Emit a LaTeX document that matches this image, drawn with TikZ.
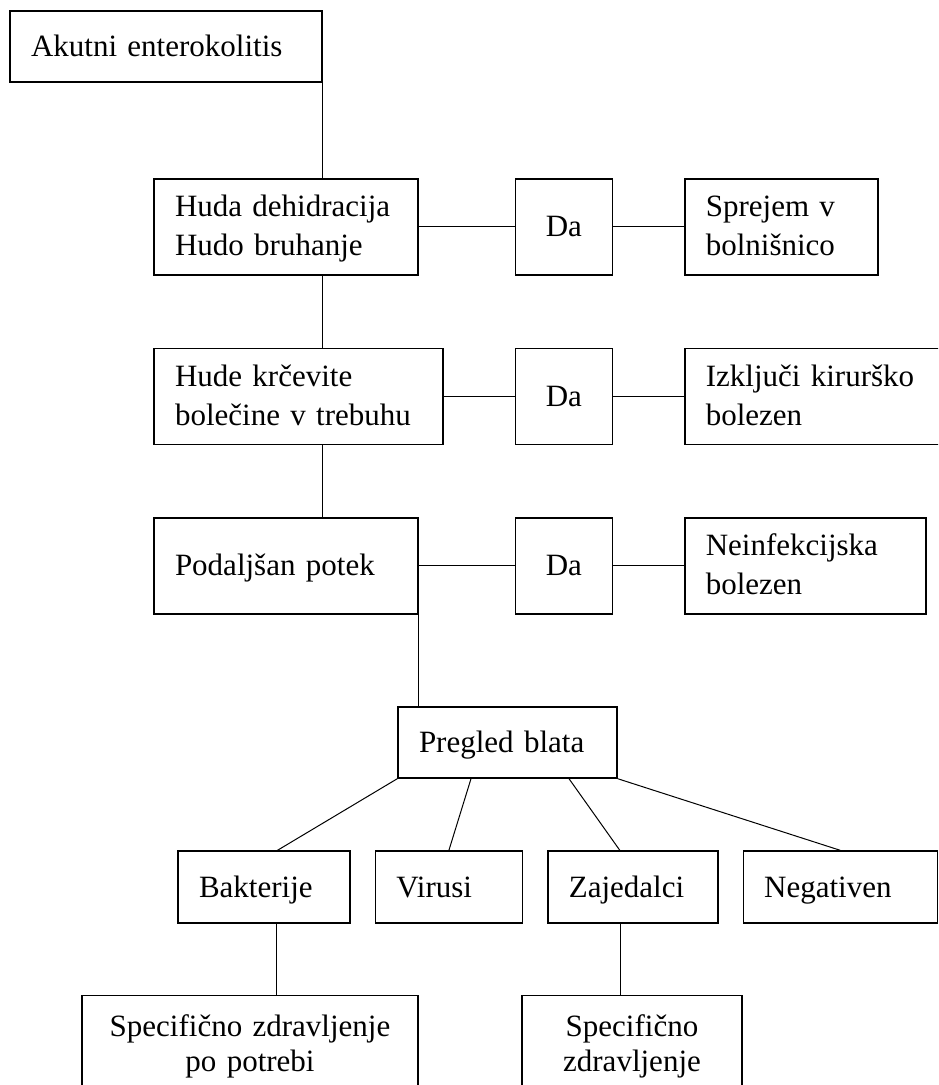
\documentclass[tikz,border=0pt]{standalone}
\usepackage{fontspec}
\setmainfont{Liberation Serif}
\usetikzlibrary{positioning}

\begin{document}
\begin{tikzpicture}[
  x=0.5pt, y=-0.5pt, node distance=36pt and 35.5pt,
  font=\fontsize{15.5}{19.5}\selectfont,
  box/.style={draw, line width=0.7pt, inner xsep=10.5pt, inner ysep=0pt,
    minimum height=48pt},
  lbox/.style={box, text width=#1, align=left, text depth=20.9pt},
  dabox/.style={box, minimum width=48.5pt, align=center},
  kbox/.style={box, text width=#1, align=left, minimum height=36pt,
    text height=13.5pt, text depth=3.4pt},
  sbox/.style={box, text width=#1, align=center, inner ysep=9.4pt,
    font=\fontsize{15.5}{17.5}\selectfont},
  ln/.style={line width=0.5pt}]
  \useasboundingbox (0,0) rectangle (938,1085);
  \clip (0,0) rectangle (938,1085);
  % left column
  \node[kbox=135pt, minimum height=35.5pt] (akutni) at (166,46.5) {Akutni enterokolitis};
  \node[lbox=111pt] (huda) at (286,227) {Huda dehidracija\\Hudo bruhanje};
  \node[lbox=123.5pt, below=of huda.south west, anchor=north west] (hude) {Hude krčevite\\bolečine v trebuhu};
  \node[lbox=111pt, text depth=1.4pt, below=of hude.south west, anchor=north west] (podaljsan) {Podaljšan potek};
  % answers
  \node[dabox, right=48pt of huda] (da1) {Da};
  \node[dabox, below=of da1] (da2) {Da};
  \node[dabox, below=of da2] (da3) {Da};
  \node[lbox=75.5pt, right=of da1] (sprejem) {Sprejem v\\bolnišnico};
  \node[lbox=118pt, right=of da2] (izkljuci) {Izključi kirurško\\bolezen};
  \node[lbox=99.5pt, right=of da3] (neinf) {Neinfekcijska\\bolezen};
  % stool exam
  \node[kbox=88.5pt, minimum height=35.5pt] (pregled) at (507.5,742.5) {Pregled blata};
  \node[kbox=65pt] (bakterije) at (264,887) {Bakterije};
  \node[kbox=52.5pt, right=12pt of bakterije] (virusi) {Virusi};
  \node[kbox=64pt, right=12pt of virusi] (zajedalci) {Zajedalci};
  \node[kbox=76pt, right=12pt of zajedalci] (negativen) {Negativen};
  \node[sbox=147pt, anchor=north] (spec1) at (250,995) {Specifično zdravljenje\\po potrebi};
  \node[sbox=89pt, anchor=north] (spec2) at (632,995) {Specifično\\zdravljenje};

  \draw[ln] (akutni.south east) -- (akutni.south east |- huda.north);
  \draw[ln] (akutni.south east |- huda.south) -- (akutni.south east |- hude.north);
  \draw[ln] (akutni.south east |- hude.south) -- (akutni.south east |- podaljsan.north);
  \draw[ln] (podaljsan.south east) -- (podaljsan.south east |- pregled.north);
  \draw[ln] (huda) -- (da1) -- (sprejem);
  \draw[ln] (hude) -- (da2) -- (izkljuci);
  \draw[ln] (podaljsan) -- (da3) -- (neinf);
  \draw[ln] (pregled.south west) -- ([xshift=6.75pt]bakterije.north);
  \draw[ln] ([xshift=-18.25pt]pregled.south) -- (virusi.north);
  \draw[ln] ([xshift=30.75pt]pregled.south) -- ([xshift=-6.5pt]zajedalci.north);
  \draw[ln] (pregled.south east) -- (negativen.north);
  \draw[ln] ([xshift=6pt]bakterije.south) -- ([xshift=6pt]bakterije.south |- spec1.north);
  \draw[ln] ([xshift=-6pt]zajedalci.south) -- ([xshift=-6pt]zajedalci.south |- spec2.north);
\end{tikzpicture}
\end{document}
